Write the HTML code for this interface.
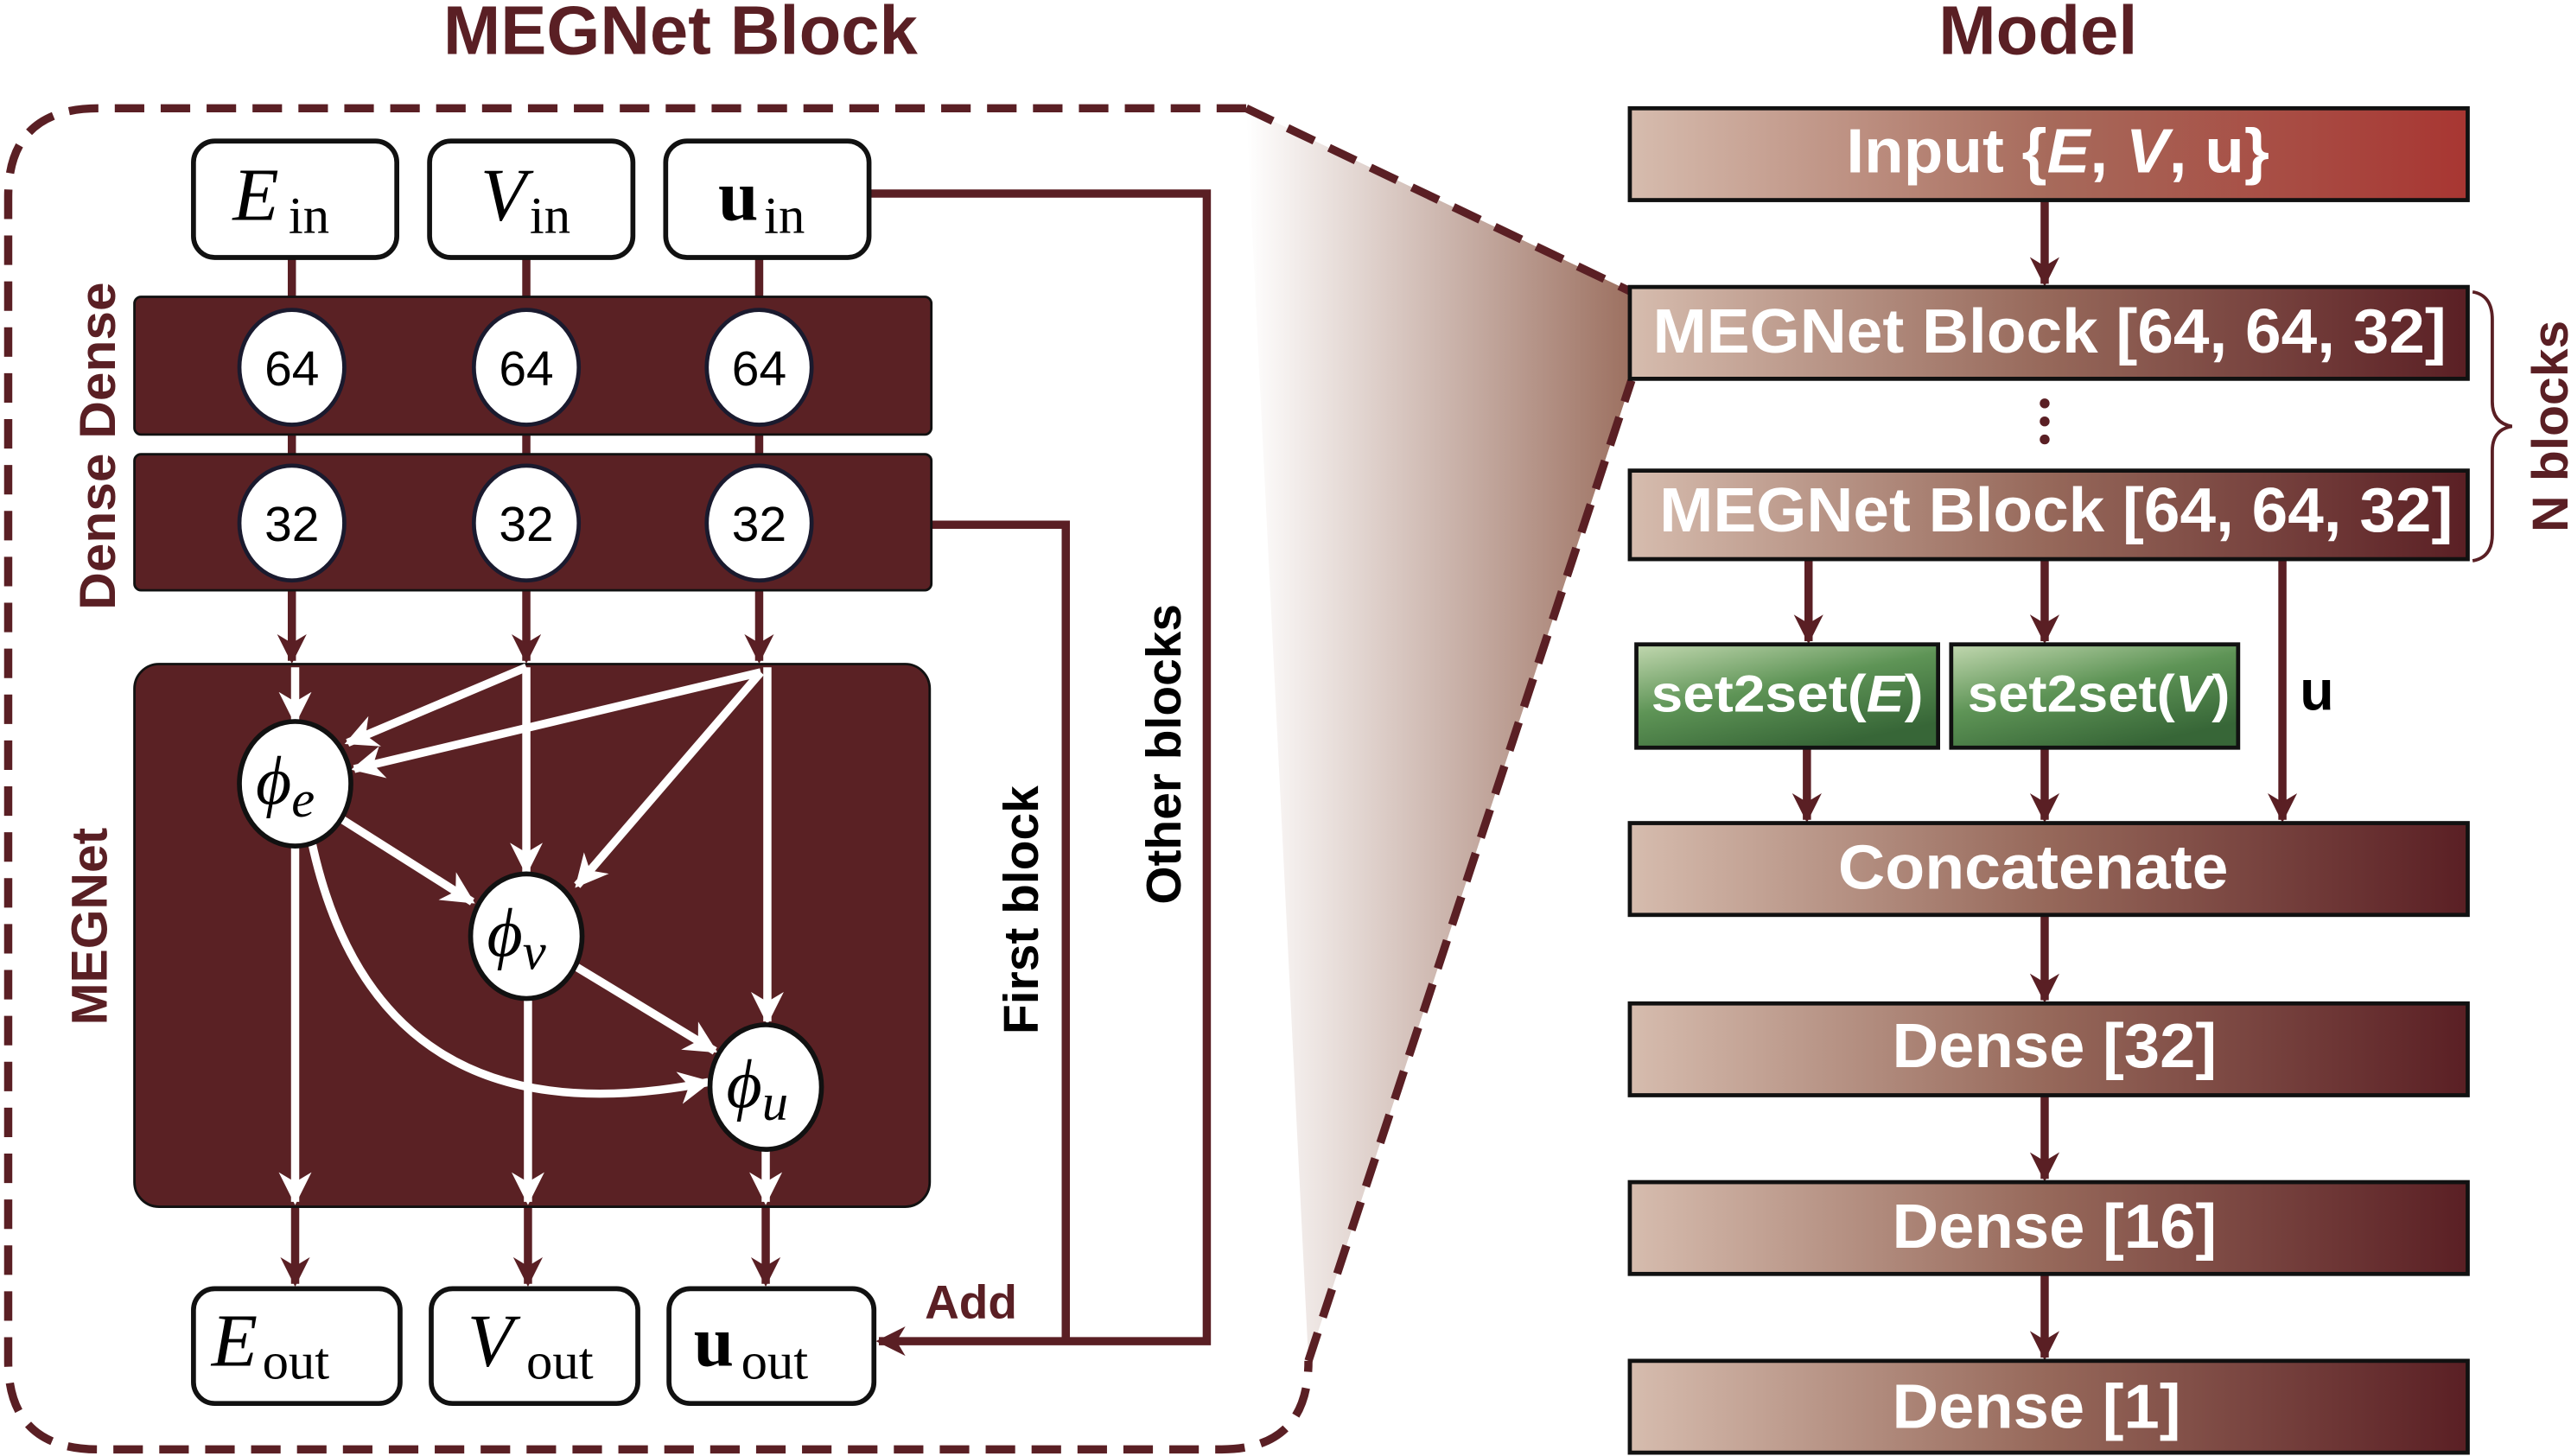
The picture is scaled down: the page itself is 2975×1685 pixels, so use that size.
<!DOCTYPE html>
<html><head><meta charset="utf-8"><style>
html,body{margin:0;padding:0;background:#fff;}
svg{display:block;}
text{font-family:"Liberation Sans",sans-serif;}
.t{font-family:"Liberation Serif",serif;}
</style></head><body>
<svg width="2975" height="1685" viewBox="0 0 1568 888" xmlns="http://www.w3.org/2000/svg">
<defs>
<linearGradient id="g1" x1="0" x2="1" y1="0" y2="0"><stop offset="0" stop-color="#d6bcae"/><stop offset="0.5" stop-color="#96685a"/><stop offset="1" stop-color="#5a1f24"/></linearGradient>
<linearGradient id="g2" x1="0" x2="1" y1="0" y2="0"><stop offset="0" stop-color="#d6bcae"/><stop offset="0.5" stop-color="#a76a5b"/><stop offset="1" stop-color="#a83632"/></linearGradient>
<linearGradient id="gg" x1="0" x2="0.6" y1="0" y2="1"><stop offset="0" stop-color="#c2d8b0"/><stop offset="0.5" stop-color="#5e9456"/><stop offset="1" stop-color="#376637"/></linearGradient>
<linearGradient id="cone" x1="0" x2="1" y1="0" y2="0"><stop offset="0" stop-color="#ffffff"/><stop offset="1" stop-color="#9c7060"/></linearGradient>
<marker id="ad" viewBox="0 0 10 10" refX="9" refY="5" markerWidth="3.6" markerHeight="3.6" orient="auto"><path d="M0,0 L10,5 L0,10 L3,5z" fill="#5a1f24"/></marker>
<marker id="aw" viewBox="0 0 10 10" refX="9" refY="5" markerWidth="4" markerHeight="4" orient="auto"><path d="M0,0 L10,5 L0,10 L3,5z" fill="#fff"/></marker>
</defs>

<path d="M760,66 L995,178 L995,232 L798,830 Z" fill="url(#cone)"/>
<path d="M760,66 L60,66 Q5,66 5,120 L5,830 Q5,884 60,884 L745,884 Q798,884 798,830" fill="none" stroke="#5a1f24" stroke-width="5" stroke-dasharray="18,10"/>
<path d="M760,66 L995,178 M798,830 L995,232" fill="none" stroke="#5a1f24" stroke-width="5" stroke-dasharray="18,10"/>

<text x="415" y="33" text-anchor="middle" font-size="42" font-weight="bold" fill="#5a1f24">MEGNet Block</text>
<text x="1243" y="33" text-anchor="middle" font-size="42" font-weight="bold" fill="#5a1f24">Model</text>

<g stroke="#5a1f24" stroke-width="5" fill="none">
<line x1="178" y1="156" x2="178" y2="181"/><line x1="321" y1="156" x2="321" y2="181"/><line x1="463" y1="156" x2="463" y2="181"/>
<line x1="178" y1="265" x2="178" y2="277"/><line x1="321" y1="265" x2="321" y2="277"/><line x1="463" y1="265" x2="463" y2="277"/>
<line x1="178" y1="360" x2="178" y2="403" marker-end="url(#ad)"/><line x1="321" y1="360" x2="321" y2="403" marker-end="url(#ad)"/><line x1="463" y1="360" x2="463" y2="403" marker-end="url(#ad)"/>
<line x1="180" y1="736" x2="180" y2="783" marker-end="url(#ad)"/><line x1="322" y1="736" x2="322" y2="783" marker-end="url(#ad)"/><line x1="467" y1="736" x2="467" y2="783" marker-end="url(#ad)"/>
<path d="M530,118 L736,118 L736,818 L536,818" marker-end="url(#ad)"/>
<path d="M568,320 L650,320 L650,818"/>
</g>

<g fill="#fff" stroke="#111" stroke-width="3">
<rect x="118" y="86" width="124" height="71" rx="13"/>
<rect x="262" y="86" width="124" height="71" rx="13"/>
<rect x="406" y="86" width="124" height="71" rx="13"/>
<rect x="118" y="786" width="126" height="70" rx="13"/>
<rect x="263" y="786" width="126" height="70" rx="13"/>
<rect x="408" y="786" width="125" height="70" rx="13"/>
</g>
<text class="t" x="142" y="134" font-size="46" font-style="italic">E</text><text class="t" x="176" y="142" font-size="32">in</text>
<text class="t" x="293" y="134" font-size="46" font-style="italic">V</text><text class="t" x="323" y="142" font-size="32">in</text>
<text class="t" x="438" y="134" font-size="44" font-weight="bold">u</text><text class="t" x="466" y="142" font-size="32">in</text>
<text class="t" x="129" y="833" font-size="46" font-style="italic">E</text><text class="t" x="160" y="841" font-size="32">out</text>
<text class="t" x="285" y="833" font-size="46" font-style="italic">V</text><text class="t" x="321" y="841" font-size="32">out</text>
<text class="t" x="423" y="833" font-size="44" font-weight="bold">u</text><text class="t" x="452" y="841" font-size="32">out</text>

<rect x="82" y="181" width="486" height="84" rx="4" fill="#5a2124" stroke="#111" stroke-width="1.5"/>
<rect x="82" y="277" width="486" height="83" rx="4" fill="#5a2124" stroke="#111" stroke-width="1.5"/>
<g fill="#fff" stroke="#1a1a2e" stroke-width="2.5">
<ellipse cx="178" cy="224" rx="32" ry="35"/><ellipse cx="321" cy="224" rx="32" ry="35"/><ellipse cx="463" cy="224" rx="32" ry="35"/>
<ellipse cx="178" cy="319" rx="32" ry="35"/><ellipse cx="321" cy="319" rx="32" ry="35"/><ellipse cx="463" cy="319" rx="32" ry="35"/>
</g>
<g font-size="30" text-anchor="middle">
<text x="178" y="235">64</text><text x="321" y="235">64</text><text x="463" y="235">64</text>
<text x="178" y="330">32</text><text x="321" y="330">32</text><text x="463" y="330">32</text>
</g>

<rect x="82" y="405" width="485" height="331" rx="15" fill="#5a2124" stroke="#111" stroke-width="1.5"/>
<g stroke="#fff" stroke-width="5" fill="none">
<line x1="180" y1="407" x2="180" y2="440" marker-end="url(#aw)"/>
<line x1="321" y1="407" x2="321" y2="532" marker-end="url(#aw)"/>
<line x1="468" y1="407" x2="468" y2="623" marker-end="url(#aw)"/>
<line x1="321" y1="407" x2="212" y2="453" marker-end="url(#aw)"/>
<line x1="464" y1="410" x2="216" y2="469" marker-end="url(#aw)"/>
<line x1="464" y1="410" x2="352" y2="540" marker-end="url(#aw)"/>
<line x1="209" y1="500" x2="288" y2="550" marker-end="url(#aw)"/>
<line x1="352" y1="590" x2="436" y2="641" marker-end="url(#aw)"/>
<path d="M190,513 Q230,700 432,660" marker-end="url(#aw)"/>
<line x1="180" y1="516" x2="180" y2="733" marker-end="url(#aw)"/>
<line x1="322" y1="609" x2="322" y2="733" marker-end="url(#aw)"/>
<line x1="467" y1="700" x2="467" y2="733" marker-end="url(#aw)"/>
</g>
<g fill="#fff" stroke="#111" stroke-width="3">
<ellipse cx="180" cy="478" rx="34" ry="38"/><ellipse cx="321" cy="571" rx="34" ry="38"/><ellipse cx="467" cy="663" rx="34" ry="38"/>
</g>
<text class="t" x="156" y="490" font-size="42" font-style="italic">ϕ<tspan font-size="32" dy="8">e</tspan></text>
<text class="t" x="297" y="583" font-size="42" font-style="italic">ϕ<tspan font-size="32" dy="8">v</tspan></text>
<text class="t" x="443" y="675" font-size="42" font-style="italic">ϕ<tspan font-size="32" dy="8">u</tspan></text>

<text x="564" y="804" font-size="29" font-weight="bold" fill="#5a1f24">Add</text>
<text transform="translate(633,555) rotate(-90)" text-anchor="middle" font-size="30" font-weight="bold">First block</text>
<text transform="translate(720,460) rotate(-90)" text-anchor="middle" font-size="30" font-weight="bold">Other blocks</text>
<text transform="translate(70,272) rotate(-90)" text-anchor="middle" font-size="31" font-weight="bold" fill="#5a1f24" textLength="200" lengthAdjust="spacingAndGlyphs">Dense Dense</text>
<text transform="translate(65,565) rotate(-90)" text-anchor="middle" font-size="31" font-weight="bold" fill="#5a1f24">MEGNet</text>

<g stroke="#5a1f24" stroke-width="5" fill="none">
<line x1="1247" y1="122" x2="1247" y2="173" marker-end="url(#ad)"/>
<line x1="1103" y1="341" x2="1103" y2="391" marker-end="url(#ad)"/>
<line x1="1247" y1="341" x2="1247" y2="391" marker-end="url(#ad)"/>
<line x1="1392" y1="341" x2="1392" y2="500" marker-end="url(#ad)"/>
<line x1="1102" y1="456" x2="1102" y2="500" marker-end="url(#ad)"/>
<line x1="1247" y1="456" x2="1247" y2="500" marker-end="url(#ad)"/>
<line x1="1247" y1="558" x2="1247" y2="610" marker-end="url(#ad)"/>
<line x1="1247" y1="668" x2="1247" y2="719" marker-end="url(#ad)"/>
<line x1="1247" y1="777" x2="1247" y2="828" marker-end="url(#ad)"/>
</g>
<g stroke="#111" stroke-width="2.5">
<rect x="994" y="66" width="511" height="56" fill="url(#g2)"/>
<rect x="994" y="175" width="511" height="56" fill="url(#g1)"/>
<rect x="994" y="287" width="511" height="54" fill="url(#g1)"/>
<rect x="998" y="393" width="184" height="63" fill="url(#gg)"/>
<rect x="1190" y="393" width="175" height="63" fill="url(#gg)"/>
<rect x="994" y="502" width="511" height="56" fill="url(#g1)"/>
<rect x="994" y="612" width="511" height="56" fill="url(#g1)"/>
<rect x="994" y="721" width="511" height="56" fill="url(#g1)"/>
<rect x="994" y="830" width="511" height="56" fill="url(#g1)"/>
</g>
<circle cx="1247" cy="246" r="3" fill="#5a1f24"/><circle cx="1247" cy="257" r="3" fill="#5a1f24"/><circle cx="1247" cy="268" r="3" fill="#5a1f24"/>
<g fill="#fff" font-weight="bold" font-size="38" text-anchor="middle">
<text x="1255" y="105" textLength="258" lengthAdjust="spacingAndGlyphs">Input {<tspan font-style="italic">E</tspan>, <tspan font-style="italic">V</tspan>, u}</text>
<text x="1250" y="215" textLength="484" lengthAdjust="spacingAndGlyphs">MEGNet Block [64, 64, 32]</text>
<text x="1254" y="324" textLength="484" lengthAdjust="spacingAndGlyphs">MEGNet Block [64, 64, 32]</text>
<text x="1240" y="542" textLength="238" lengthAdjust="spacingAndGlyphs">Concatenate</text>
<text x="1253" y="651" textLength="198" lengthAdjust="spacingAndGlyphs">Dense [32]</text>
<text x="1253" y="761" textLength="198" lengthAdjust="spacingAndGlyphs">Dense [16]</text>
<text x="1242" y="871" textLength="176" lengthAdjust="spacingAndGlyphs">Dense [1]</text>
</g>
<g fill="#fff" font-weight="bold" font-size="32" text-anchor="middle">
<text x="1090" y="434" textLength="166" lengthAdjust="spacingAndGlyphs">set2set(<tspan font-style="italic">E</tspan>)</text>
<text x="1280" y="434" textLength="160" lengthAdjust="spacingAndGlyphs">set2set(<tspan font-style="italic">V</tspan>)</text>
</g>
<text x="1413" y="433" text-anchor="middle" font-size="34" font-weight="bold">u</text>
<path d="M1508,178 Q1520,180 1520,195 L1520,245 Q1520,258 1532,260 Q1520,262 1520,275 L1520,326 Q1520,340 1508,342" fill="none" stroke="#5a1f24" stroke-width="2"/>
<text transform="translate(1566,260) rotate(-90)" text-anchor="middle" font-size="31" font-weight="bold" fill="#5a1f24">N blocks</text>
</svg>
</body></html>
